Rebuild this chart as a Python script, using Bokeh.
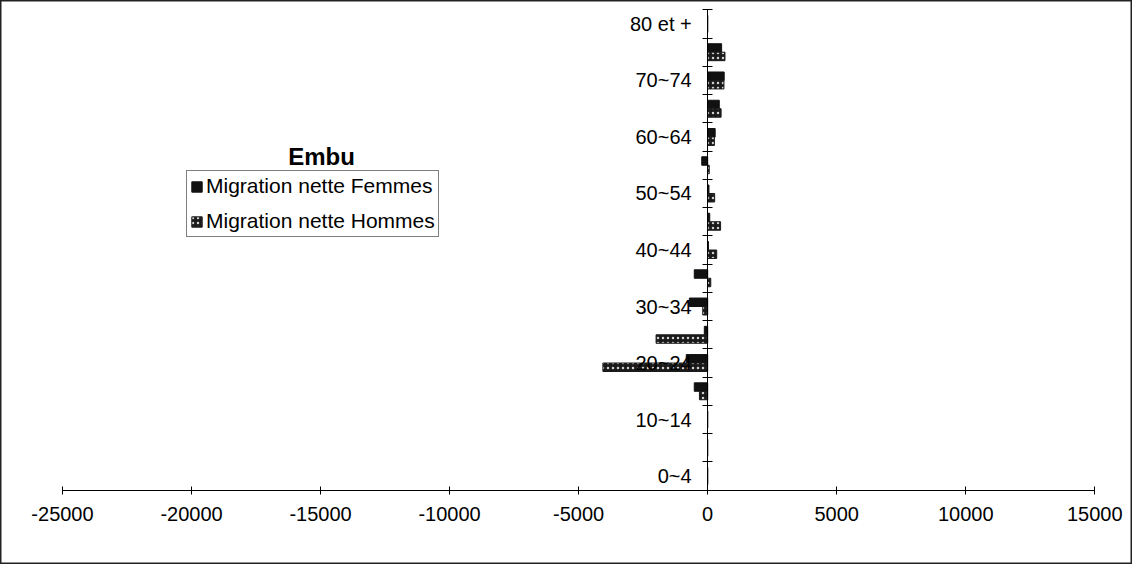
from bokeh.plotting import figure
from bokeh.models import (ColumnDataSource, Range1d, LinearAxis, FixedTicker,
                          Label, Legend, LegendItem)
from bokeh.embed import file_html
from bokeh.resources import INLINE

# ---- data ----
categories = ["0~4", "5~9", "10~14", "15~19", "20~24", "25~29", "30~34", "35~39",
              "40~44", "45~49", "50~54", "55~59", "60~64", "65~69", "70~74",
              "75~79", "80 et +"]
femmes = [0, 0, 0, -520, -830, -130, -710, -520, 30, 80, 50, -230, 290, 450, 640, 540, 0]
hommes = [0, 0, 0, -320, -4060, -2000, -190, 120, 350, 500, 270, 60, 260, 520, 630, 670, 0]
x_ticks = [-25000, -20000, -15000, -10000, -5000, 0, 5000, 10000, 15000]
title_text = "Embu"
series_names = ["Migration nette Femmes", "Migration nette Hommes"]

FONT = "Liberation Sans"

idx = list(range(len(categories)))
src_f = ColumnDataSource(dict(y=[i + 0.5 + 0.15 for i in idx], right=femmes))
src_h = ColumnDataSource(dict(y=[i + 0.5 - 0.15 for i in idx], right=hommes))

p = figure(width=1132, height=564, output_backend="svg", toolbar_location=None,
           x_range=Range1d(-27402, 16461), y_range=Range1d(-2.63, 17.33),
           x_axis_type=None, y_axis_type=None, min_border=0)
p.xgrid.visible = False
p.ygrid.visible = False
p.outline_line_color = "#222222"
p.outline_line_width = 2
p.background_fill_color = "white"
p.border_fill_color = "white"

rf = p.hbar(y="y", left=0, right="right", height=0.3, source=src_f,
            fill_color="#111111", line_color="#111111")
rh = p.hbar(y="y", left=0, right="right", height=0.3, source=src_h,
            fill_color="#1a1a1a", line_color="#1a1a1a",
            hatch_pattern="dot", hatch_color="#d0d0d0", hatch_scale=5, hatch_weight=1.5)

# x axis crossing at y = 0
xa = LinearAxis(fixed_location=0, ticker=FixedTicker(ticks=x_ticks),
                bounds=(x_ticks[0], x_ticks[-1]))
xa.major_label_overrides = {t: str(t) for t in x_ticks}
xa.major_tick_in = 4
xa.major_tick_out = 4
xa.minor_tick_line_color = None
xa.axis_line_color = "black"
xa.major_tick_line_color = "black"
xa.major_label_standoff = 13
xa.major_label_text_font = FONT
xa.major_label_text_font_size = "20px"
xa.major_label_text_color = "black"
p.add_layout(xa, "below")

# y axis line with tick marks between categories
ya = LinearAxis(fixed_location=0, ticker=FixedTicker(ticks=list(range(len(categories) + 1))),
                bounds=(0, len(categories)))
ya.major_tick_in = 5
ya.major_tick_out = 5
ya.minor_tick_line_color = None
ya.axis_line_color = "black"
ya.major_tick_line_color = "black"
ya.major_label_text_color = None
p.add_layout(ya, "left")

# y category labels (every other category)
lab_pos = [i + 0.5 for i in idx if i % 2 == 0]
yl = LinearAxis(fixed_location=0, ticker=FixedTicker(ticks=lab_pos))
yl.major_label_overrides = {i + 0.5: categories[i] for i in idx if i % 2 == 0}
yl.axis_line_color = None
yl.major_tick_line_color = None
yl.minor_tick_line_color = None
yl.major_tick_in = 0
yl.major_tick_out = 0
yl.major_label_standoff = 16
yl.major_label_text_font = FONT
yl.major_label_text_font_size = "20px"
yl.major_label_text_color = "black"
p.add_layout(yl, "left")

title = Label(x=321, y=408, x_units="screen", y_units="screen", text=title_text,
              text_font=FONT, text_font_size="24px", text_font_style="bold",
              text_align="center", text_baseline="middle", text_color="black")
p.add_layout(title)

legend = Legend(items=[LegendItem(label=series_names[0], renderers=[rf]),
                       LegendItem(label=series_names[1], renderers=[rh])],
                location=(186, 327), orientation="vertical")
legend.label_text_font = FONT
legend.label_text_font_size = "21px"
legend.label_text_color = "black"
legend.label_height = 22
legend.glyph_height = 13
legend.glyph_width = 13
legend.label_standoff = 3
legend.spacing = 11
legend.padding = 3
legend.margin = 0
legend.border_line_color = "black"
legend.border_line_width = 1
legend.background_fill_color = "white"
legend.background_fill_alpha = 1
p.add_layout(legend, "center")

open("out.html", "w").write(file_html(p, INLINE))
